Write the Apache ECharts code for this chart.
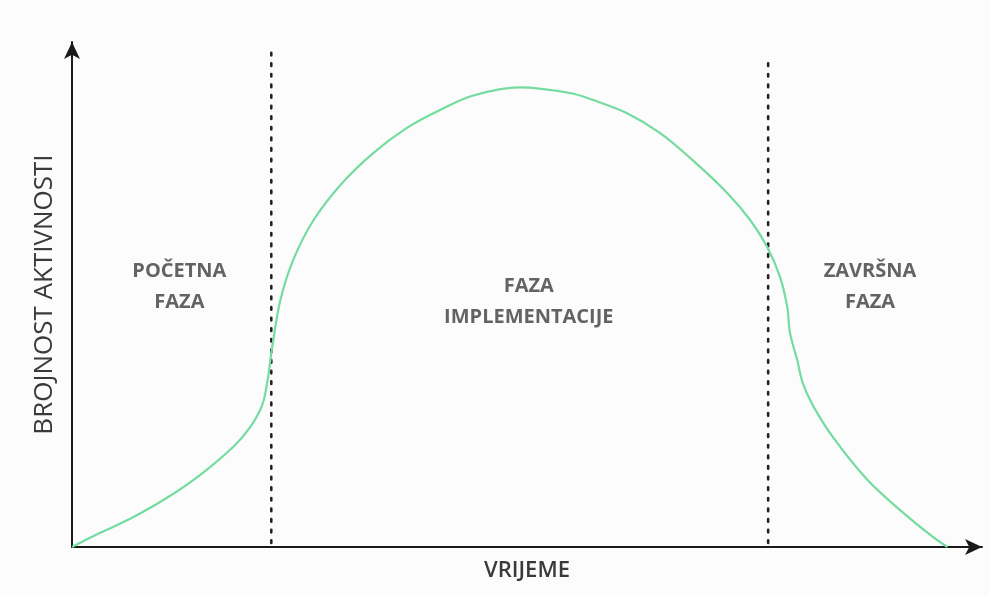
<!DOCTYPE html>
<html>
<head>
<meta charset="utf-8">
<script src="https://cdn.jsdelivr.net/npm/echarts@6/dist/echarts.min.js"></script>
<style>
html,body{margin:0;padding:0;background:#fcfcfc;}
#c{width:989px;height:596px;}
</style>
</head>
<body>
<div id="c"></div>
<script>
// Curve: time (0-100) vs. activity level (0-100)
const curveX = [0, 3.1, 6.7, 10.4, 14.1, 17.7, 19.6, 20.9, 21.5, 22.0, 22.9, 24.3, 26.5, 29.5, 33.1, 36.8, 40.4, 44.1, 49.2, 54.7, 57.3, 61.0, 64.6, 68.2, 72.0, 74.5, 76.4, 77.8, 78.6, 78.9, 79.7, 80.3, 81.4, 83.6, 87.4, 91.0, 94.6, 96.2];
const curveY = [0, 2.8, 5.9, 9.7, 14.3, 19.8, 23.8, 28.1, 33.1, 39.6, 48.9, 56.8, 64.6, 71.7, 78.0, 83.0, 86.5, 89.4, 91.0, 89.9, 88.5, 85.9, 82.0, 76.6, 70.1, 64.8, 59.4, 53.5, 47.5, 42.4, 37.0, 32.5, 28.1, 21.8, 13.3, 7.3, 2.0, 0];
// Phase boundaries (x positions) and their top ends
const boundaryX = [21.9, 76.5];
const boundaryTop = [98.4, 96.0];
const phaseLabels = ['POČETNA\nFAZA', 'FAZA\nIMPLEMENTACIJE', 'ZAVRŠNA\nFAZA'];
const phaseLabelX = [11.8, 50.2, 87.7];
const phaseLabelY = [51.5, 48.5, 51.5];
const xAxisName = 'VRIJEME';
const yAxisName = 'BROJNOST AKTIVNOSTI';

const chart = echarts.init(document.getElementById('c'));
const font = '"Open Sans", "Lato", sans-serif';

const series = [{
  type: 'line',
  data: curveX.map((x, i) => [x, curveY[i]]),
  smooth: 0.35,
  showSymbol: false,
  lineStyle: {color: '#74dca0', width: 2.2},
  z: 3
}];
boundaryX.forEach((bx, i) => {
  series.push({
    type: 'line',
    data: [[bx, 0.8], [bx, boundaryTop[i]]],
    showSymbol: false,
    lineStyle: {color: '#222', width: 2.6, type: [2.6, 8], cap: 'round'},
    z: 2
  });
});
series.push({
  type: 'scatter',
  data: phaseLabelX.map((x, i) => [x, phaseLabelY[i]]),
  symbolSize: 0,
  label: {
    show: true,
    position: 'inside',
    formatter: p => phaseLabels[p.dataIndex],
    color: '#3c3c3c',
    fontFamily: font,
    fontWeight: 'bold',
    fontSize: 20,
    lineHeight: 31,
    align: 'center'
  },
  z: 4
});

chart.setOption({
  backgroundColor: '#fcfcfc',
  animation: false,
  grid: {left: 72, right: 7, top: 42, bottom: 49, containLabel: false},
  xAxis: {
    type: 'value', min: 0, max: 100,
    axisLine: {show: true, onZero: false, symbol: ['none', 'arrow'], symbolSize: [12, 17],
      lineStyle: {color: '#1a1a1a', width: 2}},
    axisTick: {show: false}, axisLabel: {show: false}, splitLine: {show: false},
    name: xAxisName, nameLocation: 'middle', nameGap: 13,
    nameTextStyle: {color: '#3a3a3a', fontFamily: font, fontSize: 22, fontWeight: 600, verticalAlign: 'top'}
  },
  yAxis: {
    type: 'value', min: 0, max: 100,
    axisLine: {show: true, onZero: false, symbol: ['none', 'arrow'], symbolSize: [12, 17],
      lineStyle: {color: '#1a1a1a', width: 2}},
    axisTick: {show: false}, axisLabel: {show: false}, splitLine: {show: false},
    name: yAxisName, nameLocation: 'middle', nameGap: 14, nameRotate: 90,
    nameTextStyle: {color: '#3a3a3a', fontFamily: font, fontSize: 26, fontWeight: 500, verticalAlign: 'bottom'}
  },
  series: series
});
</script>
</body>
</html>
